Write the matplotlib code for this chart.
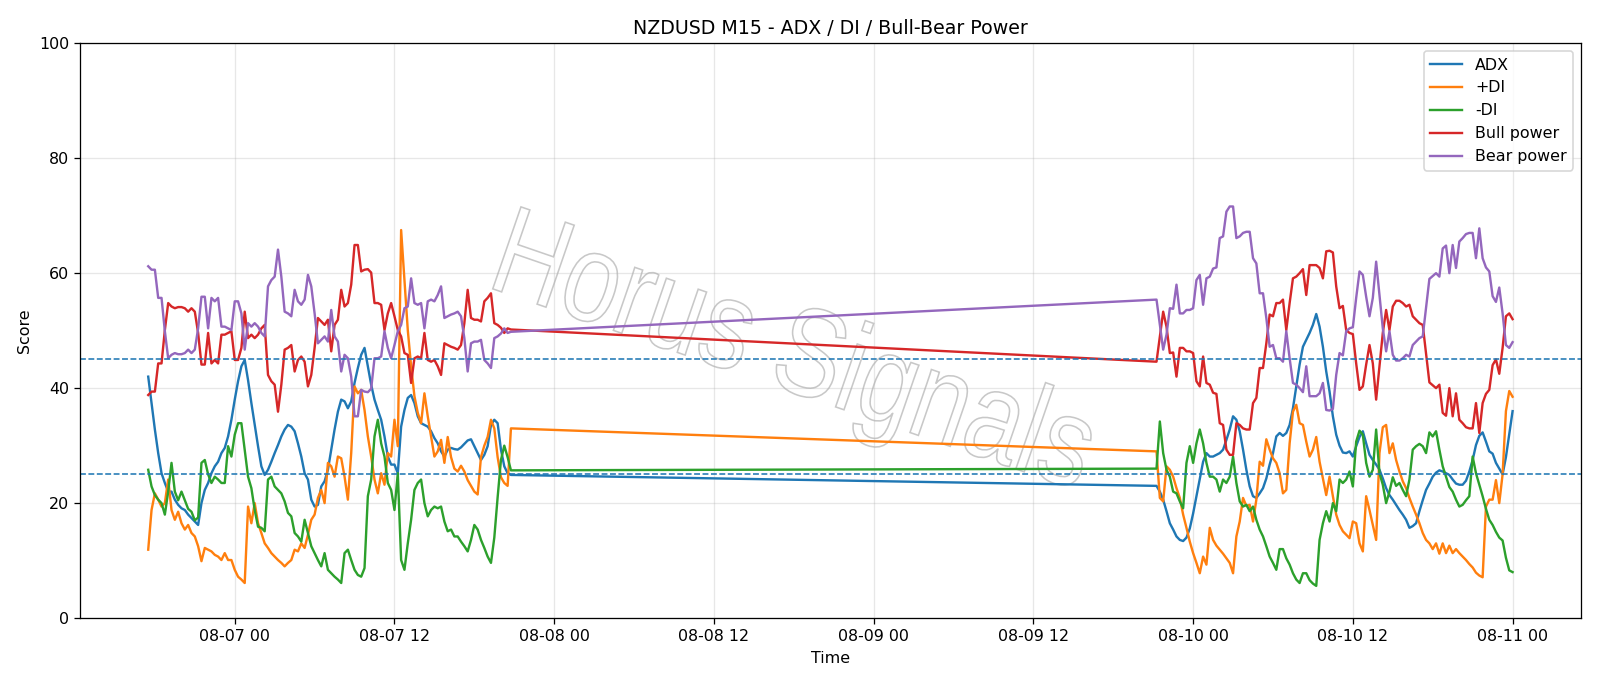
import numpy as np
import pandas as pd
import matplotlib
matplotlib.use("Agg")
import matplotlib.pyplot as plt
import matplotlib.dates as mdates
from matplotlib.textpath import TextPath
from matplotlib.patches import PathPatch
from matplotlib.font_manager import FontProperties
from matplotlib.transforms import Affine2D

# two sessions of M15 bars (weekend gap in between)
t_fri = pd.date_range("2020-08-06 17:30", periods=110, freq="15min")
t_mon = pd.date_range("2020-08-09 21:15", periods=108, freq="15min")
times = t_fri.append(t_mon)

adx = [
    42.0, 37.4, 32.8, 28.7, 25.2, 23.5, 22.0, 22.0, 20.6, 19.7, 19.1, 18.8, 18.0, 17.4, 16.8, 16.2, 20.0, 22.3, 23.5, 25.2, 26.4,
    27.2, 28.7, 29.6, 31.6, 34.5, 38.0, 41.2, 43.8, 44.9, 41.4, 37.4, 33.6, 29.9, 26.4, 24.9, 25.8, 27.2, 28.7, 30.1, 31.6, 32.8, 33.6,
    33.3, 32.5, 30.4, 28.1, 25.2, 24.1, 20.6, 19.4, 19.7, 22.9, 23.8, 25.8, 29.3, 32.8, 35.9, 38.0, 37.7, 36.5, 37.7, 40.9, 43.5, 45.8,
    47.0, 43.8, 40.6, 38.0, 36.2, 34.5, 31.6, 28.1, 26.7, 26.7, 25.2, 33.3, 36.2, 38.3, 38.8, 37.4, 35.1, 33.9, 33.6, 33.3, 32.5, 31.3,
    30.4, 29.0, 28.1, 29.3, 29.6, 29.4, 29.3, 29.7, 30.3, 30.9, 31.1, 29.9, 28.7, 27.5, 28.4, 29.9, 33.6, 34.5, 33.9, 29.3, 26.4, 25.2, 24.9,
    23.0, 22.0, 20.6, 18.6, 16.5, 15.4, 14.2, 13.6, 13.4, 14.0, 15.6, 18.2, 21.2, 24.2,
    27.2, 28.7, 28.1, 28.1, 28.4, 28.7, 29.3, 31.0, 32.8, 35.1, 34.5, 32.5, 29.3, 25.8, 22.9, 21.2, 20.9, 21.7, 22.6, 24.3, 26.7, 28.7,
    31.6, 32.2, 31.7, 32.2, 33.6, 36.5, 40.3, 44.1, 47.2, 48.4, 49.6, 51.0, 52.9, 50.7, 47.2, 42.9, 39.4, 35.1, 31.9, 30.0, 28.8, 28.7,
    29.0, 28.1, 29.9, 31.5, 32.5, 30.4, 28.4, 27.5, 26.7, 25.8, 24.3, 22.6, 21.4, 20.6, 19.7, 18.8, 18.0, 17.1, 15.7, 16.0, 16.5,
    18.6, 20.5, 22.3, 23.4, 24.6, 25.3, 25.7, 25.5, 25.2, 24.9, 24.1, 23.4, 23.2, 23.2, 23.9, 25.5, 27.5, 30.1, 31.7, 32.3, 30.7, 29.0, 28.6,
    27.0, 26.0, 25.0, 28.0, 32.0, 36.0,
]

plus_di = [
    11.9, 18.8, 21.7, 20.6, 19.4, 20.0, 24.1, 18.8, 17.1, 18.5, 16.5, 15.4, 16.2, 14.8, 14.2, 12.5, 9.9, 12.2, 11.9, 11.6, 11.0,
    10.7, 10.1, 11.3, 10.1, 10.1, 8.4, 7.2, 6.7, 6.1, 19.4, 16.5, 20.0, 16.5, 14.8, 13.0, 12.2, 11.3, 10.7, 10.1, 9.6, 9.0, 9.6,
    10.1, 11.9, 11.6, 13.0, 12.2, 14.5, 17.1, 18.0, 20.9, 22.3, 20.0, 27.0, 26.4, 24.6, 28.1, 27.8, 24.6, 20.6, 28.7, 40.3, 39.1, 39.7,
    36.2, 31.6, 28.1, 24.1, 21.7, 25.2, 23.2, 28.7, 28.1, 34.5, 29.9, 67.5, 58.8, 50.1, 43.8, 38.6, 35.7, 33.9, 39.1, 35.1, 31.6, 28.1,
    29.0, 31.0, 27.0, 31.5, 28.0, 26.0, 25.5, 26.5, 25.5, 24.0, 23.0, 22.0, 21.5, 28.0, 30.0, 31.5, 34.5, 33.0, 28.0, 24.5, 23.5, 23.0, 33.0,
    29.0, 20.9, 20.3, 26.4, 25.8, 24.6, 22.6, 20.9, 18.0, 15.7, 13.3, 11.3, 9.6, 7.8,
    10.7, 9.3, 15.7, 13.6, 12.6, 11.9, 11.2, 10.4, 9.6, 7.8, 14.2, 16.8, 20.9, 19.5, 19.7, 16.8, 20.6, 27.2, 26.5, 31.1, 29.3, 27.8,
    27.0, 25.2, 21.7, 22.3, 30.4, 35.9, 37.1, 33.9, 33.6, 30.7, 28.1, 29.3, 31.5, 27.2, 24.3, 21.4, 24.6, 21.2, 18.0, 16.2, 15.1, 14.5,
    13.9, 16.8, 16.5, 13.0, 11.6, 21.2, 18.8, 16.2, 13.6, 28.7, 33.2, 33.6, 28.7, 30.4, 27.5, 25.5, 23.8, 22.6, 20.9, 19.4, 18.0,
    16.5, 14.8, 13.6, 13.0, 12.0, 13.0, 11.2, 13.0, 11.3, 12.6, 11.3, 12.0, 11.3, 10.7, 10.1, 9.4, 8.8, 7.9, 7.4, 7.1, 19.4, 20.6, 20.6,
    24.0, 20.0, 25.0, 36.0, 39.5, 38.5,
]

minus_di = [
    25.8, 22.9, 21.4, 20.6, 20.0, 18.0, 22.0, 27.0, 22.0, 20.5, 22.0, 20.5, 19.0, 18.5, 17.0, 17.5, 27.0, 27.5, 25.0, 23.5, 24.6,
    24.1, 23.5, 23.5, 29.9, 28.1, 31.9, 33.9, 33.9, 29.3, 24.6, 22.6, 18.8, 15.9, 15.7, 15.1, 24.1, 24.6, 22.9, 22.3, 21.7, 20.3, 18.3,
    17.7, 14.8, 14.2, 13.3, 17.1, 14.8, 12.5, 11.3, 10.1, 9.0, 11.3, 8.4, 7.8, 7.2, 6.7, 6.1, 11.3, 11.9, 10.1, 8.4, 7.5, 7.2,
    8.7, 21.2, 24.1, 31.6, 34.5, 30.4, 28.1, 23.5, 22.3, 18.8, 25.2, 10.1, 8.4, 13.0, 17.1, 22.3, 23.5, 24.1, 20.0, 17.7, 18.8, 19.4,
    19.1, 19.4, 16.8, 15.1, 15.4, 14.2, 14.2, 13.3, 12.5, 11.6, 13.6, 16.2, 15.4, 13.6, 12.2, 10.7, 9.6, 14.0, 21.0, 27.5, 30.0, 28.0, 25.7,
    26.0, 34.2, 28.7, 25.8, 24.6, 22.0, 21.7, 20.3, 19.1, 27.0, 29.9, 27.0, 30.4, 32.8,
    30.4, 27.0, 24.6, 24.6, 24.1, 22.0, 24.1, 23.5, 24.6, 28.1, 23.5, 20.3, 19.4, 19.7, 18.6, 19.4, 17.1, 15.4, 14.2, 12.5, 10.7, 9.6,
    8.4, 12.0, 12.0, 10.4, 9.3, 7.8, 6.7, 6.1, 7.8, 7.8, 6.6, 6.0, 5.6, 13.6, 16.5, 18.6, 16.8, 20.0, 18.6, 24.1, 23.5, 24.1,
    25.5, 22.9, 30.7, 32.6, 31.9, 27.0, 24.6, 25.8, 32.8, 25.2, 23.2, 20.0, 22.0, 24.5, 23.0, 23.5, 22.3, 21.2, 24.1, 29.3, 29.9,
    30.3, 29.9, 28.7, 32.3, 31.6, 32.5, 29.3, 26.4, 24.6, 22.8, 22.0, 20.6, 19.4, 19.7, 20.5, 21.2, 28.1, 25.2, 23.2, 21.2, 19.0, 17.1, 16.2,
    15.0, 14.0, 13.5, 10.5, 8.3, 8.0,
]

bull = [
    38.8, 39.4, 39.4, 44.3, 44.3, 50.1, 54.8, 54.2, 53.9, 54.1, 54.1, 53.9, 53.3, 53.9, 53.3, 49.6, 44.1, 44.1, 49.6, 44.3, 44.9,
    44.3, 49.3, 49.3, 49.6, 49.9, 44.9, 44.9, 47.0, 53.3, 48.7, 49.3, 48.7, 49.3, 50.4, 51.0, 42.3, 41.2, 40.6, 35.9, 40.6, 46.7, 47.0,
    47.5, 42.9, 44.9, 45.5, 44.6, 40.3, 42.3, 47.0, 52.2, 51.6, 51.0, 51.9, 46.4, 51.0, 51.9, 57.1, 54.2, 54.8, 58.0, 64.9, 64.9, 60.3,
    60.6, 60.7, 60.1, 54.8, 54.8, 54.5, 50.1, 53.0, 54.8, 52.5, 50.1, 49.0, 46.1, 45.8, 40.9, 45.2, 45.5, 45.2, 49.6, 44.9, 44.6, 44.9,
    43.8, 42.3, 47.8, 47.5, 47.2, 47.0, 46.7, 47.5, 51.3, 57.1, 52.2, 51.9, 51.9, 51.6, 55.1, 55.7, 56.5, 51.3, 51.0, 50.5, 49.6, 50.4, 50.2,
    44.6, 49.0, 53.3, 50.7, 46.1, 46.2, 42.0, 47.0, 47.0, 46.4, 46.4, 46.1, 41.2, 40.3,
    45.5, 40.9, 40.6, 39.2, 39.0, 33.9, 33.6, 29.3, 28.4, 28.4, 33.9, 33.6, 33.0, 32.8, 32.8, 37.4, 38.3, 43.5, 43.5, 47.8, 52.8, 52.5,
    54.8, 54.8, 55.4, 50.1, 54.8, 59.1, 59.4, 60.0, 60.7, 56.2, 61.4, 61.4, 61.4, 60.9, 59.1, 63.8, 63.9, 63.6, 57.7, 53.9, 54.3, 50.1,
    49.6, 49.4, 44.3, 39.7, 40.3, 44.1, 47.5, 44.3, 38.0, 43.8, 49.6, 53.6, 50.1, 54.2, 55.2, 55.2, 54.8, 54.2, 54.5, 52.5, 51.9,
    51.3, 51.0, 46.0, 41.0, 40.5, 40.0, 40.6, 35.7, 35.2, 40.0, 35.1, 39.1, 34.5, 33.9, 33.2, 33.0, 33.0, 37.4, 32.2, 37.4, 39.0, 39.7, 44.0,
    45.0, 42.5, 47.0, 52.5, 53.0, 52.0,
]

bear = [
    61.2, 60.6, 60.6, 55.7, 55.7, 49.9, 45.2, 45.8, 46.1, 45.9, 45.9, 46.1, 46.7, 46.1, 46.7, 50.4, 55.9, 55.9, 50.4, 55.7, 55.1,
    55.7, 50.7, 50.7, 50.4, 50.1, 55.1, 55.1, 53.0, 46.7, 51.3, 50.7, 51.3, 50.7, 49.6, 49.0, 57.7, 58.8, 59.4, 64.1, 59.4, 53.3, 53.0,
    52.5, 57.1, 55.1, 54.5, 55.4, 59.7, 57.7, 53.0, 47.8, 48.4, 49.0, 48.1, 53.6, 49.0, 48.1, 42.9, 45.8, 45.2, 42.0, 35.1, 35.1, 39.7,
    39.4, 39.3, 39.9, 45.2, 45.2, 45.5, 49.9, 47.0, 45.2, 47.5, 49.9, 51.0, 53.9, 54.2, 59.1, 54.8, 54.5, 54.8, 50.4, 55.1, 55.4, 55.1,
    56.2, 57.7, 52.2, 52.5, 52.8, 53.0, 53.3, 52.5, 48.7, 42.9, 47.8, 48.1, 48.1, 48.4, 44.9, 44.3, 43.5, 48.7, 49.0, 49.5, 50.4, 49.6, 49.8,
    55.4, 51.0, 46.7, 49.3, 53.9, 53.8, 58.0, 53.0, 53.0, 53.6, 53.6, 53.9, 58.8, 59.7,
    54.5, 59.1, 59.4, 60.8, 61.0, 66.1, 66.4, 70.7, 71.6, 71.6, 66.1, 66.4, 67.0, 67.2, 67.2, 62.6, 61.7, 56.5, 56.5, 52.2, 47.2, 47.5,
    45.2, 45.2, 44.6, 49.9, 45.2, 40.9, 40.6, 40.0, 39.3, 43.8, 38.6, 38.6, 38.6, 39.1, 40.9, 36.2, 36.1, 36.4, 42.3, 46.1, 45.7, 49.9,
    50.4, 50.6, 55.7, 60.3, 59.7, 55.9, 52.5, 55.7, 62.0, 56.2, 50.4, 46.4, 49.9, 45.8, 44.8, 44.8, 45.2, 45.8, 45.5, 47.5, 48.1,
    48.7, 49.0, 54.0, 59.0, 59.5, 60.0, 59.4, 64.3, 64.8, 60.0, 64.9, 60.9, 65.5, 66.1, 66.8, 67.0, 67.0, 62.6, 67.8, 62.6, 61.0, 60.3, 56.0,
    55.0, 57.5, 53.0, 47.5, 47.0, 48.0,
]

levels = [45, 25]

fig, ax = plt.subplots(figsize=(14, 6.0025), dpi=1600 / 14)

ax.plot(times, adx, label="ADX")
ax.plot(times, plus_di, label="+DI")
ax.plot(times, minus_di, label="-DI")
ax.plot(times, bull, label="Bull power")
ax.plot(times, bear, label="Bear power")
for lv in levels:
    ax.axhline(lv, color="C0", linestyle="--", linewidth=1)

ax.set_ylim(0, 100)
ax.set_title("NZDUSD M15 - ADX / DI / Bull-Bear Power")
ax.set_xlabel("Time")
ax.set_ylabel("Score")
ax.grid(True, alpha=0.3)
ax.legend(loc="upper right")
ax.xaxis.set_major_locator(mdates.HourLocator(byhour=[0, 12]))
ax.xaxis.set_major_formatter(mdates.DateFormatter("%m-%d %H"))

fig.subplots_adjust(left=0.05, right=0.988, top=0.937, bottom=0.099)

# watermark: narrow outlined text, in pixel units
tp = TextPath((0, 0), "Horus Signals", size=126, prop=FontProperties(family="Liberation Sans"))
ext = tp.get_extents()
px, py = ax.transAxes.transform((0.476, 0.452))
tr = (Affine2D().translate(-(ext.x0 + ext.width / 2), -(ext.y0 + ext.height / 2))
      .scale(0.8, 1).rotate_deg(-19).translate(px, py))
wm = PathPatch(tp, transform=tr, facecolor="none", edgecolor="#c8c8c8", lw=1.0, zorder=1)
ax.add_artist(wm)

fig.savefig("out.png")
